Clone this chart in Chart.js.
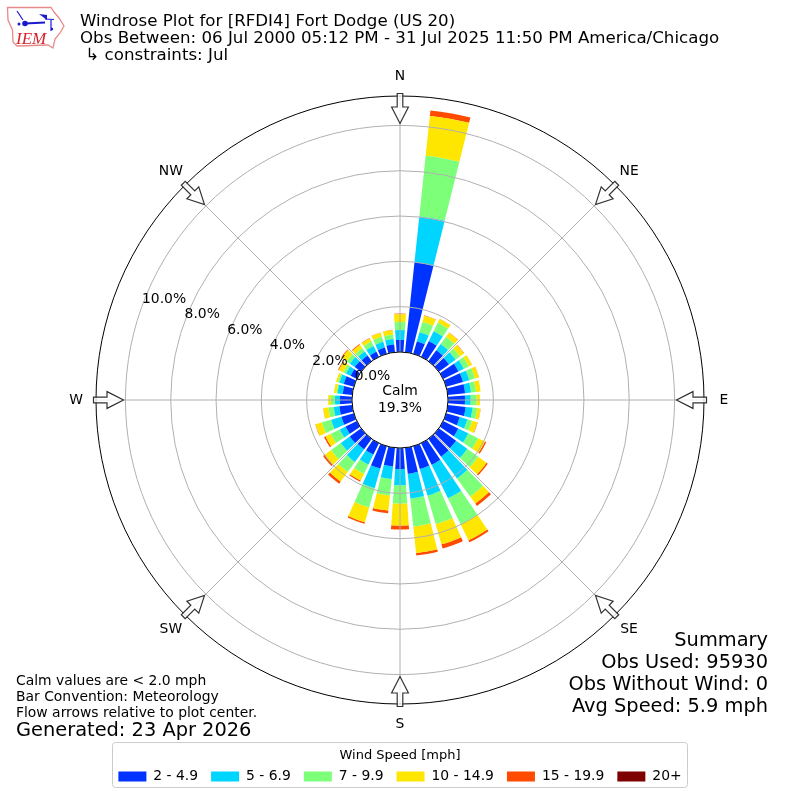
<!DOCTYPE html>
<html><head><meta charset="utf-8">
<style>html,body{margin:0;padding:0;background:#fff}canvas{display:block}</style>
<script src="https://cdn.jsdelivr.net/npm/chart.js@4/dist/chart.umd.min.js"></script>
</head><body><canvas id="c" width="800" height="800"></canvas>
<script>
const directions=[0,10,20,30,40,50,60,70,80,90,100,110,120,130,140,150,160,170,180,190,200,210,220,230,240,250,260,270,280,290,300,310,320,330,340,350];
const speed2to5=[0.53,3.99,0.57,0.77,0.60,0.55,0.75,0.77,0.77,0.75,0.79,0.62,0.74,0.94,0.97,1.06,1.05,1.15,0.93,0.83,1.03,0.56,0.57,0.62,0.55,0.57,0.57,0.53,0.42,0.46,0.31,0.35,0.31,0.25,0.29,0.34];
const speed5to7=[0.44,2.04,0.42,0.49,0.33,0.36,0.26,0.29,0.26,0.25,0.31,0.35,0.49,0.61,1.19,1.65,1.22,1.10,0.71,0.56,0.90,0.49,0.69,0.49,0.29,0.47,0.25,0.22,0.23,0.20,0.22,0.26,0.22,0.28,0.26,0.25];
const speed7to10=[0.35,2.69,0.47,0.41,0.40,0.24,0.24,0.26,0.22,0.26,0.20,0.22,0.49,0.60,0.99,1.27,1.31,1.24,0.81,0.73,0.88,0.45,0.54,0.53,0.44,0.42,0.23,0.18,0.04,0.07,0.13,0.18,0.18,0.22,0.23,0.19];
const speed10to15=[0.35,1.77,0.29,0.19,0.22,0.22,0.16,0.18,0.21,0.15,0.15,0.24,0.33,0.45,0.38,0.79,0.93,1.18,0.97,0.67,0.68,0.33,0.53,0.35,0.26,0.29,0.23,0.12,0.12,0.09,0.22,0.26,0.18,0.15,0.19,0.20];
const speed15to20=[0.03,0.24,0.02,0.01,0.02,0.02,0.01,0.01,0,0,0.01,0.02,0.07,0.07,0.13,0.10,0.19,0.11,0.18,0.12,0.07,0.06,0.12,0.09,0.07,0.02,0.01,0,0,0,0.04,0.04,0.04,0.02,0.01,0.02];
const speed20up=[0,0,0,0,0,0,0,0,0,0,0,0,0,0,0,0,0,0,0,0,0,0,0,0,0,0,0,0,0,0,0,0,0,0,0,0];
const speedLabels=['2 - 4.9','5 - 6.9','7 - 9.9','10 - 14.9','15 - 19.9','20+'];
const speedColors=['#0033ff','#00d5ff','#7dff7a','#ffe600','#ff4a00','#7f0000'];
const speedSeries=[speed2to5,speed5to7,speed7to10,speed10to15,speed15to20,speed20up];
const ringValues=[0,2,4,6,8,10];
const compass=[['N',0],['NE',45],['E',90],['SE',135],['S',180],['SW',225],['W',270],['NW',315]];
const titleLines=['Windrose Plot for [RFDI4] Fort Dodge (US 20)','Obs Between: 06 Jul 2000 05:12 PM - 31 Jul 2025 11:50 PM America/Chicago',' ↳ constraints: Jul'];
const summaryLines=['Summary','Obs Used: 95930','Obs Without Wind: 0','Avg Speed: 5.9 mph'];
const noteLines=['Calm values are < 2.0 mph','Bar Convention: Meteorology','Flow arrows relative to plot center.'];
const generatedText='Generated: 23 Apr 2026';
const calmLines=['Calm','19.3%'];
const axisMin=-2.12, axisMax=11.3, barDegrees=8, tickLabelBearing=290;
const FONT='"DejaVu Sans"';

class WindRoseController extends Chart.PolarAreaController{
  updateElements(arcs,start,count,mode){
    super.updateElements(arcs,start,count,mode);
    const scale=this._cachedMeta.rScale, sets=this.chart.data.datasets, half=barDegrees/2*Math.PI/180;
    for(let i=start;i<start+count;i++){
      let base=0;
      for(let d=0;d<this.index;d++) base+=sets[d].data[i];
      const centre=scale.getIndexAngle(i)-Math.PI/2;
      Object.assign(arcs[i],{
        innerRadius:scale.getDistanceFromCenterForValue(base),
        outerRadius:scale.getDistanceFromCenterForValue(base+sets[this.index].data[i]),
        startAngle:centre-half,endAngle:centre+half
      });
    }
  }
}
WindRoseController.id='windrose';
WindRoseController.defaults=Chart.PolarAreaController.defaults;
WindRoseController.overrides=Chart.PolarAreaController.overrides;
Chart.register(WindRoseController);

function drawLogo(ctx){
  ctx.save();
  const o=[[7.5,7.5],[51,7.5],[54,12],[59,18],[64,26],[60,33],[55,39],[53,48],[48,45],[17,46],[13,42],[12.5,30],[8,20]];
  ctx.beginPath();o.forEach((p,i)=>i?ctx.lineTo(p[0],p[1]):ctx.moveTo(p[0],p[1]));ctx.closePath();
  ctx.strokeStyle='#e88a8a';ctx.lineWidth=1.3;ctx.stroke();
  ctx.strokeStyle='#1a1acc';ctx.fillStyle='#1a1acc';ctx.lineWidth=2;
  ctx.beginPath();ctx.moveTo(25,23.5);ctx.lineTo(45,22.5);ctx.stroke();
  ctx.lineWidth=1.2;
  ctx.beginPath();ctx.moveTo(45,19);ctx.lineTo(54,19.5);ctx.moveTo(51,20);ctx.lineTo(51,31);ctx.moveTo(17,11);ctx.lineTo(23,20);ctx.stroke();
  ctx.beginPath();ctx.arc(25,23.5,2.8,0,7);ctx.fill();
  ctx.beginPath();ctx.moveTo(39,14);ctx.lineTo(47,15);ctx.lineTo(47,20);ctx.closePath();ctx.fill();
  ctx.beginPath();ctx.arc(19,24,1.5,0,7);ctx.arc(52,29,1.2,0,7);ctx.fill();
  ctx.fillStyle='#d6202a';ctx.font='italic 17px "Liberation Serif"';ctx.textAlign='left';ctx.textBaseline='alphabetic';
  ctx.fillText('IEM',16,44);
  ctx.restore();
}
function drawArrow(ctx,cx,cy,bearing){
  ctx.save();ctx.translate(cx,cy);ctx.rotate(bearing*Math.PI/180);
  ctx.beginPath();
  [[-2.8,-306.5],[2.8,-306.5],[2.8,-293],[8.4,-293],[0,-276.5],[-8.4,-293],[-2.8,-293]].forEach((p,i)=>i?ctx.lineTo(p[0],p[1]):ctx.moveTo(p[0],p[1]));
  ctx.closePath();
  ctx.fillStyle='rgba(255,255,255,0.8)';ctx.fill();
  ctx.strokeStyle='#333';ctx.lineWidth=1.2;ctx.stroke();
  ctx.restore();
}
const rosePlugin={
  id:'rose',
  afterDraw(chart){
    const ctx=chart.ctx, s=chart.scales.r, cx=s.xCenter, cy=s.yCenter, R=s.drawingArea;
    ctx.save();
    ctx.strokeStyle='#b0b0b0';ctx.lineWidth=1;
    compass.forEach(c=>{const a=c[1]*Math.PI/180;ctx.beginPath();ctx.moveTo(cx,cy);ctx.lineTo(cx+R*Math.sin(a),cy-R*Math.cos(a));ctx.stroke();});
    const hole=s.getDistanceFromCenterForValue(0);
    ctx.beginPath();ctx.arc(cx,cy,hole,0,Math.PI*2);ctx.fillStyle='#fff';ctx.fill();ctx.strokeStyle='#000';ctx.lineWidth=1;ctx.stroke();
    ctx.beginPath();ctx.arc(cx,cy,R,0,Math.PI*2);ctx.strokeStyle='#000';ctx.lineWidth=1;ctx.stroke();
    compass.forEach(c=>drawArrow(ctx,cx,cy,c[1]));
    ctx.fillStyle='#000';
    ctx.font='13.9px '+FONT;ctx.textAlign='center';ctx.textBaseline='middle';
    compass.forEach(c=>{const a=c[1]*Math.PI/180;ctx.fillText(c[0],cx+324*Math.sin(a),cy-324*Math.cos(a));});
    ctx.fillText(calmLines[0],cx,cy-8.5);ctx.fillText(calmLines[1],cx,cy+8);
    ctx.textAlign='left';ctx.textBaseline='bottom';
    const b=tickLabelBearing*Math.PI/180;
    ringValues.forEach(v=>{const d=s.getDistanceFromCenterForValue(v);ctx.fillText(v.toFixed(1)+'%',cx+d*Math.sin(b),cy-d*Math.cos(b));});
    ctx.textBaseline='middle';
    ctx.font='16.67px '+FONT;
    titleLines.forEach((t,i)=>ctx.fillText(t,80,22+i*17));
    ctx.font='13.9px '+FONT;
    noteLines.forEach((t,i)=>ctx.fillText(t,16,681+i*16));
    ctx.font='19.4px '+FONT;
    ctx.fillText(generatedText,16,731);
    ctx.textAlign='right';
    summaryLines.forEach((t,i)=>ctx.fillText(t,768,641+i*22));
    ctx.beginPath();ctx.roundRect(112.5,742.5,575,45,3);ctx.strokeStyle='#ccc';ctx.lineWidth=1;ctx.stroke();
    drawLogo(ctx);
    ctx.restore();
  }
};
new Chart(document.getElementById('c'),{
  type:'windrose',
  data:{
    labels:directions.map(String),
    datasets:speedSeries.map((v,i)=>({label:speedLabels[i],data:v,backgroundColor:speedColors[i],borderWidth:0}))
  },
  options:{
    responsive:false,animation:false,
    layout:{padding:{top:96,left:96,right:96,bottom:6.5}},
    scales:{r:{
      type:'radialLinear',min:axisMin,max:axisMax,startAngle:0,
      ticks:{display:false},
      afterBuildTicks(scale){scale.ticks=ringValues.map(v=>({value:v}));},
      grid:{circular:true,color:'#b0b0b0',lineWidth:1,z:1},
      angleLines:{display:false},pointLabels:{display:false}
    }},
    plugins:{
      tooltip:{enabled:false},
      legend:{display:true,position:'bottom',align:'center',
        title:{display:true,text:'Wind Speed [mph]',color:'#000',font:{family:'DejaVu Sans',size:13},padding:{top:44,bottom:-8.6}},
        labels:{boxWidth:28,boxHeight:10,padding:13,color:'#000',font:{family:'DejaVu Sans',size:13.9},
          generateLabels(chart){return chart.data.datasets.map((d,i)=>({text:d.label,fillStyle:d.backgroundColor,strokeStyle:d.backgroundColor,lineWidth:0,hidden:false,datasetIndex:i}));}
        }
      }
    }
  },
  plugins:[rosePlugin]
});
</script></body></html>
